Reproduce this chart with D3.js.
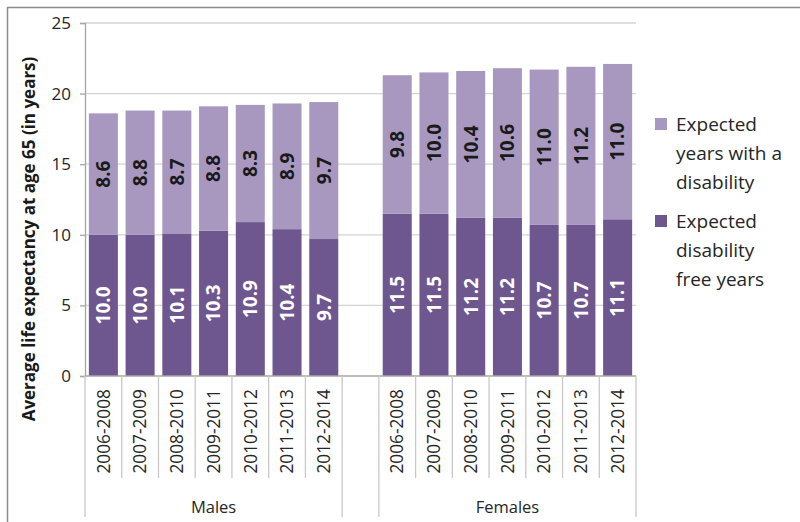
<!DOCTYPE html>
<html>
<head>
<meta charset="utf-8">
<script src="https://cdn.jsdelivr.net/npm/d3@7"></script>
<style>
  body { margin: 0; background: #fff; }
  svg { display: block; font-family: "Open Sans", "DejaVu Sans", sans-serif; }
</style>
</head>
<body>
<svg id="chart" width="800" height="522"></svg>
<script>
const periods = ['2006-2008', '2007-2009', '2008-2010', '2009-2011', '2010-2012', '2011-2013', '2012-2014']
const groups = ['Males', 'Females']
const freeYears = {
    Males: [10.0, 10.0, 10.1, 10.3, 10.9, 10.4, 9.7],
    Females: [11.5, 11.5, 11.2, 11.2, 10.7, 10.7, 11.1]
}
const disabilityYears = {
    Males: [8.6, 8.8, 8.7, 8.8, 8.3, 8.9, 9.7],
    Females: [9.8, 10.0, 10.4, 10.6, 11.0, 11.2, 11.0]
}
const yTicks = [0, 5, 10, 15, 20, 25]
const legendItems = [
    { key: 'disability', lines: ['Expected', 'years with a', 'disability'] },
    { key: 'free', lines: ['Expected', 'disability', 'free years'] }
]

const COLORS = { free: '#6e568f', disability: '#a898c0' }

const svg = d3.select('#chart')
const margin = { left: 85, right: 164, top: 23, bottom: 146 }
const width = 800 - margin.left - margin.right
const height = 522 - margin.top - margin.bottom

// outer frame
svg.append('rect')
    .attr('x', 7.5).attr('y', 7.5)
    .attr('width', 800).attr('height', 530)
    .attr('fill', 'none').attr('stroke', '#8c8c8c').attr('stroke-width', 1.5)

// one slot per bar, with an empty slot between the two groups
const rows = []
groups.forEach((g, gi) => {
    periods.forEach((p, i) => {
        rows.push({
            slot: `${g}|${p}`, group: g, period: p,
            free: freeYears[g][i], disability: disabilityYears[g][i]
        })
    })
    if (gi < groups.length - 1) rows.push({ slot: `gap${gi}`, gap: true })
})

const x = d3.scaleBand()
    .domain(rows.map(d => d.slot))
    .range([0, width])
    .paddingInner(0.21)
    .paddingOuter(0.105)

const step = x.step()
const halfGap = (step - x.bandwidth()) / 2

const y = d3.scaleLinear().domain([0, 25]).range([height, 0])

const g = svg.append('g').attr('transform', `translate(${margin.left},${margin.top})`)

// gridlines
g.append('g')
    .selectAll('line')
    .data(yTicks.filter(t => t > 0))
    .join('line')
    .attr('x1', 0).attr('x2', width)
    .attr('y1', d => y(d)).attr('y2', d => y(d))
    .attr('stroke', '#d4d4d4').attr('stroke-width', 1.3)

// y axis
const yAxis = g.append('g')
    .call(d3.axisLeft(y).tickValues(yTicks).tickSize(5).tickPadding(9))
yAxis.select('.domain').attr('stroke', '#a6a6a6').attr('stroke-width', 1.3)
yAxis.selectAll('.tick line').attr('stroke', '#a6a6a6').attr('stroke-width', 1.3)
yAxis.selectAll('.tick text')
    .attr('font-size', 17).attr('fill', '#262626')
    .attr('font-family', '"Open Sans", sans-serif')

// stacked bars
const stack = d3.stack().keys(['free', 'disability'])
const series = stack(rows.filter(d => !d.gap))

const bars = g.append('g')
series.forEach(s => {
    const key = s.key
    bars.append('g')
        .selectAll('rect')
        .data(s)
        .join('rect')
        .attr('x', d => x(d.data.slot))
        .attr('width', x.bandwidth())
        .attr('y', d => y(d[1]))
        .attr('height', d => y(d[0]) - y(d[1]))
        .attr('fill', COLORS[key])

    bars.append('g')
        .selectAll('text')
        .data(s)
        .join('text')
        .attr('transform', d => `translate(${x(d.data.slot) + x.bandwidth() / 2},${y((d[0] + d[1]) / 2)}) rotate(-90)`)
        .attr('text-anchor', 'middle')
        .attr('dy', '0.36em')
        .attr('font-size', 19)
        .attr('font-weight', 'bold')
        .attr('fill', key === 'free' ? '#ffffff' : '#1a1a1a')
        .text(d => d.data[key].toFixed(1))
})

// x axis baseline
g.append('line')
    .attr('x1', 0).attr('x2', width)
    .attr('y1', height).attr('y2', height)
    .attr('stroke', '#a6a6a6').attr('stroke-width', 1.3)

// category separators
const sepColor = '#c8c8c8'
const xa = g.append('g').attr('transform', `translate(0,${height})`)
const dataRows = rows.filter(d => !d.gap)
groups.forEach(grp => {
    const r = dataRows.filter(d => d.group === grp)
    const left = x(r[0].slot) - halfGap
    const right = x(r[r.length - 1].slot) + x.bandwidth() + halfGap
    ;[left, right].forEach(px => {
        xa.append('line')
            .attr('x1', px).attr('x2', px).attr('y1', 0).attr('y2', 141)
            .attr('stroke', sepColor).attr('stroke-width', 1.3)
    })
    r.slice(1).forEach(d => {
        const px = x(d.slot) - halfGap
        xa.append('line')
            .attr('x1', px).attr('x2', px).attr('y1', 0).attr('y2', 102)
            .attr('stroke', sepColor).attr('stroke-width', 1.3)
    })
    xa.append('text')
        .attr('x', (left + right) / 2).attr('y', 137)
        .attr('text-anchor', 'middle')
        .attr('font-size', 16.5).attr('fill', '#262626')
        .text(grp)
})

xa.selectAll('text.period')
    .data(dataRows)
    .join('text')
    .attr('class', 'period')
    .attr('transform', d => `translate(${x(d.slot) + x.bandwidth() / 2},13) rotate(-90)`)
    .attr('text-anchor', 'end')
    .attr('dy', '0.36em')
    .attr('font-size', 17.3)
    .attr('fill', '#262626')
    .text(d => d.period)

// y axis title
svg.append('text')
    .attr('transform', 'translate(35,239) rotate(-90)')
    .attr('text-anchor', 'middle')
    .attr('font-size', 17)
    .attr('font-weight', 'bold')
    .attr('fill', '#1a1a1a')
    .text('Average life expectancy at age 65 (in years)')

// legend
const legend = svg.append('g').attr('transform', 'translate(655,118)')
legendItems.forEach((item, i) => {
    const li = legend.append('g').attr('transform', `translate(0,${i * 97})`)
    li.append('rect')
        .attr('width', 12).attr('height', 12)
        .attr('fill', COLORS[item.key])
    li.append('text')
        .attr('font-size', 19).attr('fill', '#262626')
        .selectAll('tspan')
        .data(item.lines)
        .join('tspan')
        .attr('x', 21)
        .attr('y', (d, j) => 13 + j * 29)
        .text(d => d)
})
</script>
</body>
</html>
